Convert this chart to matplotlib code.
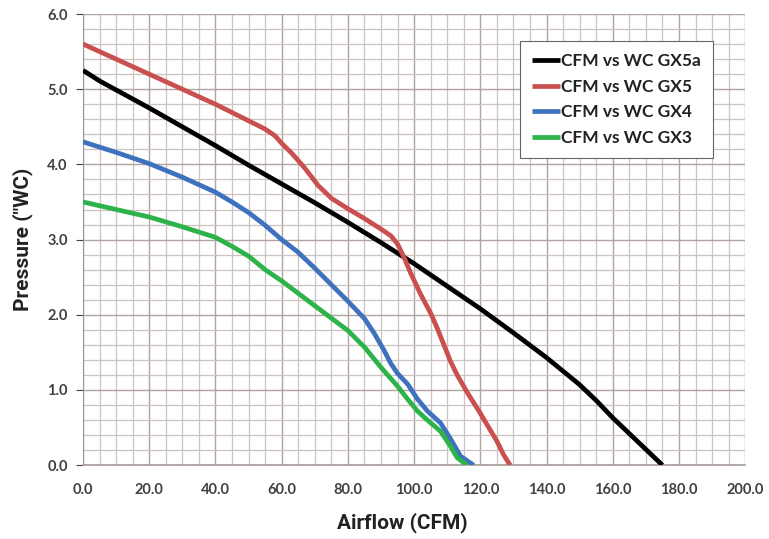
import matplotlib
matplotlib.use("Agg")
import matplotlib.pyplot as plt
from matplotlib.ticker import MultipleLocator, FormatStrFormatter

# Data (CFM, "WC)
gx5a_cfm = [0, 5, 10, 20, 30, 40, 50, 60, 70, 80, 90, 100, 110, 120, 130, 140, 150, 155, 160, 165, 170, 175]
gx5a_wc = [5.25, 5.11, 4.99, 4.75, 4.5, 4.25, 3.99, 3.74, 3.49, 3.23, 2.96, 2.68, 2.38, 2.08, 1.76, 1.43, 1.07, 0.86, 0.63, 0.42, 0.21, 0.0]

gx5_cfm = [0, 10, 20, 30, 40, 50, 55, 58, 60, 63, 67, 71, 75, 80, 85, 90, 93, 95, 97, 99, 102, 105, 107, 109, 111, 113, 116, 120, 122, 125, 127, 129]
gx5_wc = [5.6, 5.4, 5.2, 5.0, 4.8, 4.58, 4.47, 4.38, 4.28, 4.15, 3.95, 3.72, 3.55, 3.41, 3.28, 3.14, 3.05, 2.94, 2.76, 2.55, 2.27, 2.02, 1.82, 1.6, 1.38, 1.2, 0.97, 0.69, 0.54, 0.32, 0.14, 0.0]

gx4_cfm = [0, 10, 20, 30, 40, 45, 50, 55, 60, 65, 70, 75, 80, 85, 88, 91, 93, 95, 98, 101, 104, 108, 111, 114, 118]
gx4_wc = [4.3, 4.16, 4.01, 3.83, 3.63, 3.5, 3.36, 3.19, 3.0, 2.83, 2.62, 2.4, 2.18, 1.95, 1.75, 1.52, 1.35, 1.22, 1.08, 0.88, 0.72, 0.56, 0.35, 0.12, 0.0]

gx3_cfm = [0, 10, 20, 30, 40, 45, 50, 55, 60, 70, 80, 85, 90, 95, 98, 101, 104, 108, 111, 113, 116]
gx3_wc = [3.5, 3.4, 3.3, 3.17, 3.03, 2.91, 2.78, 2.6, 2.45, 2.12, 1.79, 1.57, 1.3, 1.05, 0.88, 0.72, 0.6, 0.45, 0.25, 0.1, 0.0]

labels = ["CFM vs WC GX5a", "CFM vs WC GX5", "CFM vs WC GX4", "CFM vs WC GX3"]
colors = ["#000000", "#C9504F", "#3F72BE", "#2DB34A"]

plt.rcParams['font.family'] = ['Lato', 'DejaVu Sans']

fig = plt.figure(figsize=(7.69, 5.39), dpi=100)
ax = fig.add_axes([0.108, 0.137, 0.861, 0.837])

for xs, ys, lab, c in zip([gx5a_cfm, gx5_cfm, gx4_cfm, gx3_cfm],
                          [gx5a_wc, gx5_wc, gx4_wc, gx3_wc], labels, colors):
    ax.plot(xs, ys, color=c, lw=3.4, label=lab, solid_capstyle='butt',
            solid_joinstyle='round', zorder=3)

ax.set_xlim(0, 200)
ax.set_ylim(0, 6)
ax.xaxis.set_major_locator(MultipleLocator(20))
ax.xaxis.set_minor_locator(MultipleLocator(5))
ax.yaxis.set_major_locator(MultipleLocator(1))
ax.yaxis.set_minor_locator(MultipleLocator(0.2))
ax.xaxis.set_major_formatter(FormatStrFormatter('%.1f'))
ax.yaxis.set_major_formatter(FormatStrFormatter('%.1f'))

ax.grid(which='major', color='#B0A3A0', lw=1.0, zorder=0)
ax.grid(which='minor', color='#CDC2C0', lw=0.9, zorder=0)
ax.set_axisbelow(True)

for s in ['top', 'right']:
    ax.spines[s].set_visible(False)
ax.spines['left'].set_color('#9A9A9A')
ax.spines['bottom'].set_color('#A89A98')
ax.spines['bottom'].set_linewidth(1.2)
ax.tick_params(which='both', length=0)
ax.tick_params(which='major', axis='y', length=5, color='#9A9A9A')
ax.tick_params(axis='y', labelsize=10.5, colors='#404040', pad=6)
ax.tick_params(axis='x', labelsize=10.5, colors='#404040', pad=13)
for t in ax.get_xticklabels() + ax.get_yticklabels():
    t.set_fontweight('bold')

ax.set_xlabel('Airflow (CFM)', fontsize=15, fontweight='bold', color='#222222',
              family=['Roboto', 'DejaVu Sans'])
ax.xaxis.set_label_coords(0.482, -0.105)
ax.set_ylabel('Pressure ("WC)', fontsize=15, fontweight='bold', labelpad=10, color='#222222',
              family=['Roboto', 'DejaVu Sans'])

leg = ax.legend(loc='upper left', bbox_to_anchor=(0.66, 0.94), frameon=True, fancybox=False,
                fontsize=12.5, handlelength=1.6, handletextpad=0.05, labelspacing=0.55,
                borderpad=0.7, borderaxespad=0, edgecolor='#666666', framealpha=1)
leg.get_frame().set_linewidth(0.8)
for t in leg.get_texts():
    t.set_fontweight('bold')
    t.set_color('#222222')

fig.savefig('out.png', dpi=100)
